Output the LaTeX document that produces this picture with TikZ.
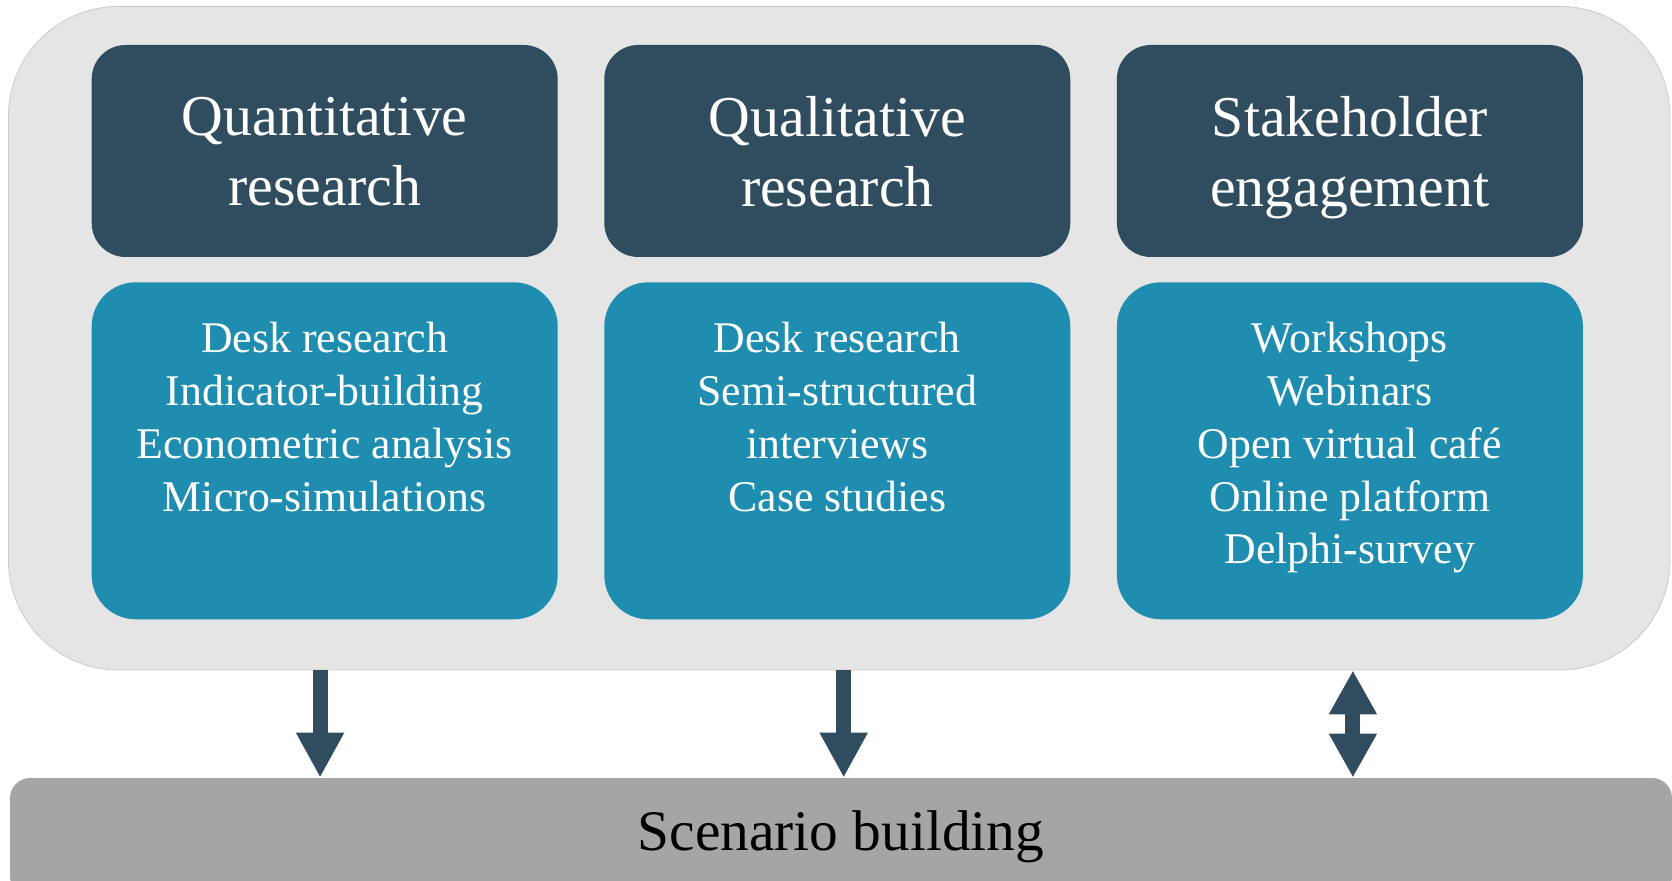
\documentclass[tikz,border=0pt]{standalone}
\usepackage{fontspec}
\setmainfont{Liberation Serif}
\usetikzlibrary{arrows.meta,positioning}

\definecolor{headblue}{RGB}{47,77,94}
\definecolor{bodyteal}{RGB}{31,141,176}
\definecolor{panelgray}{RGB}{229,229,229}
\definecolor{bargray}{RGB}{165,165,165}

\begin{document}
\begin{tikzpicture}[
  head/.style={fill=headblue, text=white, rounded corners=17pt,
    minimum width=233pt, minimum height=106pt, align=center,
    text depth=0pt, font=\fontsize{28.9pt}{35pt}\selectfont},
  body/.style={fill=bodyteal, rounded corners=22pt,
    minimum width=233pt, minimum height=168.5pt},
  list/.style={text=white, align=center, anchor=north, inner sep=0pt,
    font=\fontsize{21.9pt}{26.4pt}\selectfont},
  flow/.style={headblue, line width=7.5pt,
    -{Triangle[width=22.5pt,length=22.5pt]}},
  flowboth/.style={headblue, line width=7.5pt,
    {Triangle[width=22.5pt,length=22pt]}-{Triangle[width=22.5pt,length=22pt]}},
]
  \useasboundingbox (0pt,0pt) rectangle (836pt,440pt);

  % light panel and bottom bar
  \node[fill=panelgray, draw=panelgray!88!black, line width=0.4pt,
    rounded corners=55pt, inner sep=0pt,
    minimum width=830.75pt, minimum height=331.8pt]
    (panel) at (419.6pt,270.9pt) {};
  \node[fill=bargray, rounded corners=10pt, inner sep=0pt,
    minimum width=831pt, minimum height=59pt,
    font=\fontsize{28.7pt}{34pt}\selectfont]
    (scen) at (420.5pt,21.5pt) {Scenario building};

  % three columns
  \node[head] (quanhead) at (162.35pt,364.5pt) {Quantitative\\research};
  \node[head, right=22.9pt of quanhead] (qualhead) {Qualitative\\research};
  \node[head, right=22.9pt of qualhead] (stakehead) {Stakeholder\\engagement};

  \node[body, below=12.25pt of quanhead] (quanbody) {};
  \node[body, below=12.25pt of qualhead] (qualbody) {};
  \node[body, below=12.25pt of stakehead] (stakebody) {};

  \node[list] (quanlist) at ([yshift=-20pt]quanbody.north)
  {Desk research\\Indicator-building\\Econometric analysis\\Micro-simulations};
  \node[list] (quallist) at ([yshift=-20pt]qualbody.north)
  {Desk research\\Semi-structured\\interviews\\Case studies};
  \node[list] (stakelist) at ([yshift=-20pt]stakebody.north)
  {Workshops\\Webinars\\Open virtual café\\Online platform\\Delphi-survey};

  % arrows to the bar
  \draw[flow] ([xshift=-2.3pt]quanhead.south |- panel.south)
    -- ([xshift=-2.3pt]quanhead.south |- scen.north);
  \draw[flow] ([xshift=3.2pt]qualhead.south |- panel.south)
    -- ([xshift=3.2pt]qualhead.south |- scen.north);
  \draw[flowboth] ([xshift=1.5pt]stakehead.south |- panel.south)
    -- ([xshift=1.5pt]stakehead.south |- scen.north);

\end{tikzpicture}
\end{document}
